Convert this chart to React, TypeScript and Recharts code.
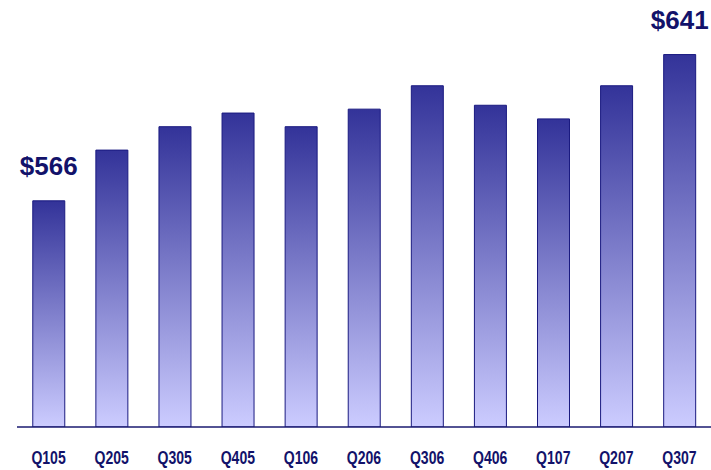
import React from "react";
import { BarChart, Bar, XAxis, YAxis, LabelList } from "recharts";

// Quarterly revenue ($M)
const quarters = ["Q105", "Q205", "Q305", "Q405", "Q106", "Q206", "Q306", "Q406", "Q107", "Q207", "Q307"];
const revenue = [566, 592, 604, 611, 604, 613, 625, 615, 608, 625, 641];
// Only the first and last quarters carry a value callout
const calloutIndexes = [0, quarters.length - 1];

const data = quarters.map((q, i) => ({ quarter: q, revenue: revenue[i] }));

const NAVY = "#12126a";

// Condensed bold quarter labels
const QuarterTick = (props: any) => {
  const { x, y, payload } = props;
  return (
    <g transform={`translate(${x},${y + 29}) scale(0.78,1)`}>
      <text
        x={0}
        y={0}
        textAnchor="middle"
        fill={NAVY}
        fontSize={18}
        fontWeight={700}
        fontFamily="'Liberation Sans', Arial, sans-serif"
      >
        {payload.value}
      </text>
    </g>
  );
};

const Callout = (props: any) => {
  const { x, y, width, value, index } = props;
  if (!calloutIndexes.includes(index)) return null;
  return (
    <text
      x={x + width / 2}
      y={y - 26}
      textAnchor="middle"
      fill={NAVY}
      fontSize={26}
      fontWeight={700}
      fontFamily="'Liberation Sans', Arial, sans-serif"
    >
      {`$${value}`}
    </text>
  );
};

export default function App() {
  return (
    <div style={{ position: "absolute", left: 0, top: 0, background: "#fff" }}>
      <BarChart
        width={711}
        height={470}
        data={data}
        margin={{ top: 37, right: 0, bottom: 13, left: 17 }}
        barCategoryGap="25%"
      >
        <defs>
          <linearGradient id="barFill" x1="0" y1="0" x2="0" y2="1">
            <stop offset="0%" stopColor="#333399" />
            <stop offset="100%" stopColor="#ccccff" />
          </linearGradient>
        </defs>
        <XAxis
          dataKey="quarter"
          height={30}
          tickLine={false}
          axisLine={{ stroke: "#1a1a70", strokeWidth: 1.5 }}
          tick={<QuarterTick />}
          interval={0}
        />
        <YAxis hide domain={[450, 650]} allowDataOverflow />
        <Bar
          dataKey="revenue"
          fill="url(#barFill)"
          stroke="#1a1a80"
          strokeWidth={1}
          isAnimationActive={false}
        >
          <LabelList dataKey="revenue" content={<Callout />} />
        </Bar>
      </BarChart>
    </div>
  );
}
